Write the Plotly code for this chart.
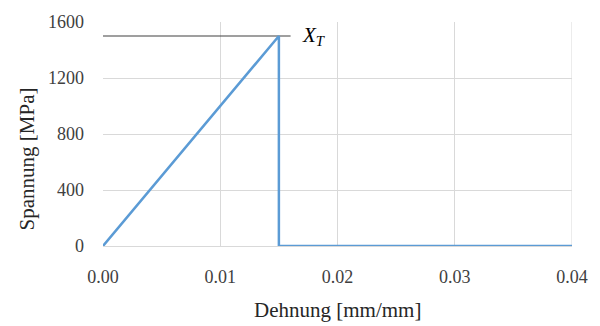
import plotly.graph_objects as go

strain = [0.0, 0.015, 0.015, 0.04]
stress = [0, 1500, 0, 0]
xt_line_x = [0.0, 0.016]
xt_line_y = [1500, 1500]
x_ticks = [0.00, 0.01, 0.02, 0.03, 0.04]
x_tick_labels = ["0.00", "0.01", "0.02", "0.03", "0.04"]
y_ticks = [0, 400, 800, 1200, 1600]
y_tick_labels = ["0", "400", "800", "1200", "1600"]

font_family = "Liberation Serif"
grid = "#d9d9d9"

fig = go.Figure()
fig.add_trace(go.Scatter(x=xt_line_x, y=xt_line_y, mode="lines",
                         line=dict(color="#404040", width=1.2), showlegend=False))
fig.add_trace(go.Scatter(x=strain, y=stress, mode="lines",
                         line=dict(color="#5b9bd5", width=2.5), showlegend=False))

fig.add_annotation(x=0.0168, y=1500, text="<i>X<sub>T</sub></i>", showarrow=False,
                   xanchor="left", yanchor="middle",
                   font=dict(family=font_family, size=21, color="#000000"))
fig.add_annotation(xref="paper", yref="paper", x=0.5, y=-0.287,
                   text="Dehnung [mm/mm]", showarrow=False,
                   xanchor="center", yanchor="middle",
                   font=dict(family=font_family, size=21, color="#262626"))
fig.add_annotation(xref="paper", yref="paper", x=-0.1625, y=0.39,
                   text="Spannung [MPa]", showarrow=False, textangle=-90,
                   xanchor="center", yanchor="middle",
                   font=dict(family=font_family, size=21, color="#262626"))

fig.update_layout(
    width=600, height=326,
    margin=dict(l=103, r=17, t=16, b=80),
    paper_bgcolor="white", plot_bgcolor="white",
    font=dict(family=font_family, size=18, color="#404040"),
    xaxis=dict(range=[0, 0.04], tickvals=x_ticks, ticktext=x_tick_labels,
               showgrid=True, gridcolor=grid, gridwidth=1, zeroline=False,
               showline=True, linecolor=grid, mirror=False, ticks="",
               ticklabelstandoff=14),
    yaxis=dict(range=[0, 1600], tickvals=y_ticks, ticktext=y_tick_labels,
               showgrid=True, gridcolor=grid, gridwidth=1, zeroline=False,
               showline=False, ticks="", ticklabelstandoff=18),
)
fig.add_shape(type="line", xref="x", yref="y", x0=0.04, x1=0.04, y0=0, y1=1600,
              line=dict(color=grid, width=1), layer="below")

fig.write_html("out.html",
               config={"displayModeBar": False, "responsive": False},
               post_script="document.body.style.margin='0';"
                           "document.documentElement.style.overflow='hidden';")
